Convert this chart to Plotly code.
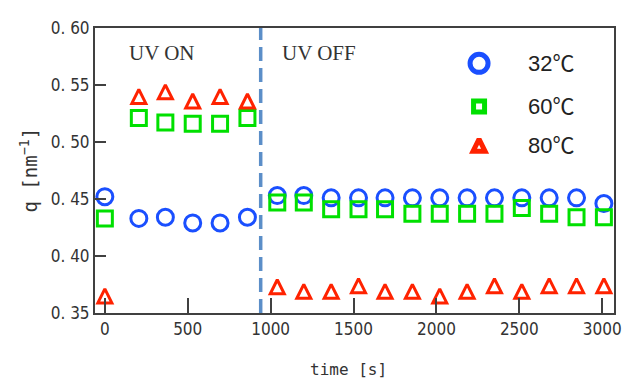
import plotly.graph_objects as go

# ---------------- data ----------------
time_uv_on = [0, 205, 365, 530, 695, 860]
time_uv_off = [1040, 1200, 1365, 1530, 1690, 1855, 2020, 2185, 2350, 2515, 2680, 2845, 3010]
uv_switch_time = 940

q_32C = [0.452, 0.433, 0.434, 0.429, 0.429, 0.434,
         0.453, 0.453, 0.451, 0.451, 0.451, 0.451, 0.451, 0.451, 0.451, 0.451, 0.451, 0.451, 0.446]
q_60C = [0.433, 0.521, 0.517, 0.516, 0.516, 0.521,
         0.447, 0.447, 0.441, 0.441, 0.441, 0.437, 0.437, 0.437, 0.437, 0.442, 0.437, 0.434, 0.434]
q_80C = [0.365, 0.540, 0.544, 0.536, 0.540, 0.536,
         0.373, 0.369, 0.369, 0.374, 0.369, 0.369, 0.365, 0.369, 0.374, 0.369, 0.374, 0.374, 0.374]

series_names = ["32℃", "60℃", "80℃"]
x_ticks = [0, 500, 1000, 1500, 2000, 2500, 3000]
y_ticks = [0.35, 0.40, 0.45, 0.50, 0.55, 0.60]
y_tick_labels = ["0. 35", "0. 40", "0. 45", "0. 50", "0. 55", "0. 60"]
phase_labels = ["UV ON", "UV OFF"]

# ---------------- styles ----------------
BLUE = "#1a4fff"
GREEN = "#00e000"
RED = "#ff2200"
AX = "#404040"
TRANSP = "rgba(0,0,0,0)"

time_all = time_uv_on + time_uv_off

fig = go.Figure()

fig.add_trace(go.Scatter(
    x=time_all, y=q_32C, mode="markers", name=series_names[0], showlegend=False,
    marker=dict(symbol="circle", size=16, color=TRANSP, line=dict(color=BLUE, width=3)),
))
fig.add_trace(go.Scatter(
    x=time_all, y=q_60C, mode="markers", name=series_names[1], showlegend=False,
    marker=dict(symbol="square", size=15, color=TRANSP, line=dict(color=GREEN, width=3)),
))
fig.add_trace(go.Scatter(
    x=time_all, y=q_80C, mode="markers", name=series_names[2], showlegend=False,
    marker=dict(symbol="arrow-down", angle=180, standoff=7, size=14, color=TRANSP,
                line=dict(color=RED, width=3)),
))

# ---- legend (drawn on a hidden overlay axis) ----
leg_x = 0.740
leg_y = [0.876, 0.725, 0.589]
leg_markers = [
    dict(symbol="circle", size=18, color=TRANSP, line=dict(color=BLUE, width=5)),
    dict(symbol="square", size=11, color=TRANSP, line=dict(color=GREEN, width=5)),
    dict(symbol="arrow-down", angle=180, standoff=6, size=12, color=TRANSP, line=dict(color=RED, width=5)),
]
for name, yy, mk in zip(series_names, leg_y, leg_markers):
    fig.add_trace(go.Scatter(x=[leg_x], y=[yy], mode="markers", marker=mk,
                             xaxis="x2", yaxis="y2", showlegend=False, hoverinfo="skip"))
    fig.add_annotation(x=0.831, y=yy, xref="paper", yref="paper", text=name,
                       showarrow=False, xanchor="left", yanchor="middle",
                       font=dict(family="Liberation Sans, Noto Sans CJK JP", size=22, color="#222"))

# ---- UV ON / OFF labels ----
for txt, xx in zip(phase_labels, [0.0607, 0.357]):
    fig.add_annotation(x=xx, y=0.911, xref="paper", yref="paper", text=txt,
                       showarrow=False, xanchor="left", yanchor="middle",
                       font=dict(family="Liberation Serif", size=21, color="#333"))

# ---- axis titles ----
fig.add_annotation(x=0.488, y=-0.198, xref="paper", yref="paper", text="time [s]",
                   showarrow=False, xanchor="center", yanchor="middle",
                   font=dict(family="DejaVu Sans Mono", size=16, color="#333"))
fig.add_annotation(x=-0.129, y=0.5, xref="paper", yref="paper", text="q [nm<sup>−1</sup>]",
                   showarrow=False, xanchor="center", yanchor="middle", textangle=-90,
                   font=dict(family="DejaVu Sans Mono", size=19, color="#333"))

# ---- UV switch line ----
fig.add_shape(type="line", x0=uv_switch_time, x1=uv_switch_time, xref="x",
              y0=0, y1=1, yref="paper", layer="below",
              line=dict(color="#5b8ec8", width=3.5, dash="14px,7px"))

tick_font = dict(family="DejaVu Sans Condensed, DejaVu Sans", size=17, color="#333")

# page body adds an 8px offset, so the figure is 8px smaller and margins shifted
fig.update_layout(
    width=623, height=373,
    margin=dict(l=87, r=9, t=20, b=68),
    paper_bgcolor="white", plot_bgcolor="white",
    showlegend=False,
    xaxis=dict(range=[-59.4, 3071], tickvals=x_ticks, ticks="inside", ticklen=15,
               tickwidth=1.5, tickcolor=AX, showline=True, linecolor=AX, linewidth=2,
               mirror=True, showgrid=False, zeroline=False, tickfont=tick_font),
    yaxis=dict(range=[0.35, 0.60], tickvals=y_ticks, ticktext=y_tick_labels,
               ticks="inside", ticklen=11, tickwidth=1.5, tickcolor=AX, showline=True,
               linecolor=AX, linewidth=2, mirror=True, showgrid=False, zeroline=False,
               tickfont=tick_font),
    xaxis2=dict(overlaying="x", range=[0, 1], visible=False),
    yaxis2=dict(overlaying="y", range=[0, 1], visible=False),
)

fig.write_html("out.html")
